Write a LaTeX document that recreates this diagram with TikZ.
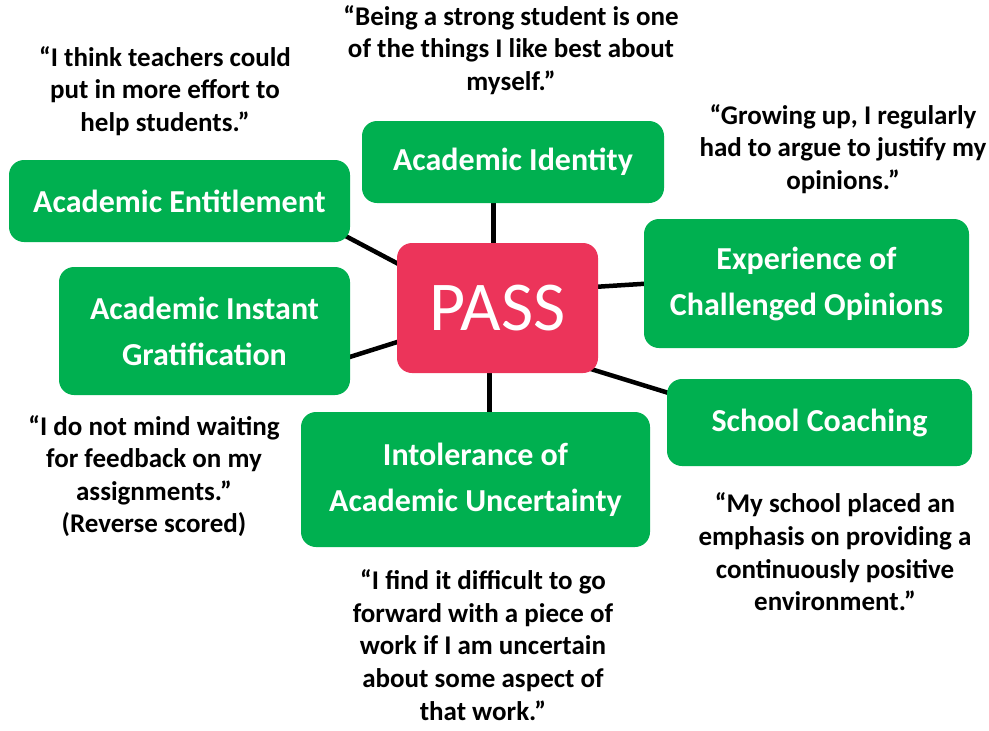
\documentclass[tikz,border=0pt]{standalone}
\usepackage{fontspec}
\setmainfont{Carlito}
\usetikzlibrary{backgrounds}
\definecolor{factorgreen}{RGB}{0,176,80}
\definecolor{passred}{RGB}{236,52,90}
\begin{document}
\begin{tikzpicture}[x=1pt,y=-1pt,
  factor/.style={rectangle,rounded corners=15pt,fill=factorgreen,text=white,align=center,
    font=\fontsize{32}{46}\selectfont\bfseries},
  quote/.style={align=center,font=\fontsize{27}{32.6}\selectfont\bfseries},
  link/.style={line width=4.5pt}]
\useasboundingbox (0,0) rectangle (989,731);

% centre box
\node (pass) at (497.5,308) [rectangle,rounded corners=15pt,fill=passred,text=white,
  minimum width=201pt,minimum height=130pt,font=\fontsize{70}{80}\selectfont] {PASS};

% the six factors
\node (identity) at (513,162) [factor,minimum width=302pt,minimum height=82pt] {Academic Identity};
\node (entitle) at (179.5,201) [factor,minimum width=341pt,minimum height=82pt] {Academic Entitlement};
\node (grat) at (204.5,331) [factor,minimum width=291pt,minimum height=128pt] {Academic Instant\\Gratification};
\node (exper) at (806.5,283.5) [factor,minimum width=325pt,minimum height=129pt] {Experience of\\Challenged Opinions};
\node (coach) at (819.5,422.5) [factor,minimum width=305pt,minimum height=87pt] {School Coaching};
\node (intol) at (475.5,479.5) [factor,minimum width=349pt,minimum height=135pt] {Intolerance of\\Academic Uncertainty};

\begin{pgfonlayer}{background}
\draw [link] ([xshift=-4pt,yshift=-5pt]pass.north) -- ([xshift=-4pt,yshift=5pt]pass.north |- identity.south);
\draw [link] ([xshift=-8pt,yshift=5pt]pass.south) -- ([xshift=-8pt,yshift=-5pt]pass.south |- intol.north);
\draw [link] ([xshift=-10pt,yshift=9pt]entitle.south east) -- ([xshift=13pt,yshift=38pt]pass.west);
\draw [link] ([xshift=-10pt,yshift=-29pt]grat.east) -- ([xshift=10pt,yshift=-31pt]pass.west);
\draw [link] ([xshift=-5pt,yshift=21pt]pass.east) -- ([xshift=5pt]exper.west);
\draw [link] ([xshift=-10pt,yshift=5pt]pass.south east) -- ([xshift=10pt,yshift=27pt]coach.west);
\end{pgfonlayer}

% survey items
\node (qentitle) at (165,91) [quote] {“I think teachers could\\put in more effort to\\help students.”};
\node (qidentity) at (511,50) [quote] {“Being a strong student is one\\of the things I like best about\\myself.”};
\node (qexper) at (843,149) [quote] {“Growing up, I regularly\\had to argue to justify my\\opinions.”};
\node (qgrat) at (154,476) [quote] {“I do not mind waiting\\for feedback on my\\assignments.”\\(Reverse scored)};
\node (qintol) at (483,645) [quote] {“I find it difficult to go\\forward with a piece of\\work if I am uncertain\\about some aspect of\\that work.”};
\node (qcoach) at (835,552) [quote] {“My school placed an\\emphasis on providing a\\continuously positive\\environment.”};
\end{tikzpicture}
\end{document}
